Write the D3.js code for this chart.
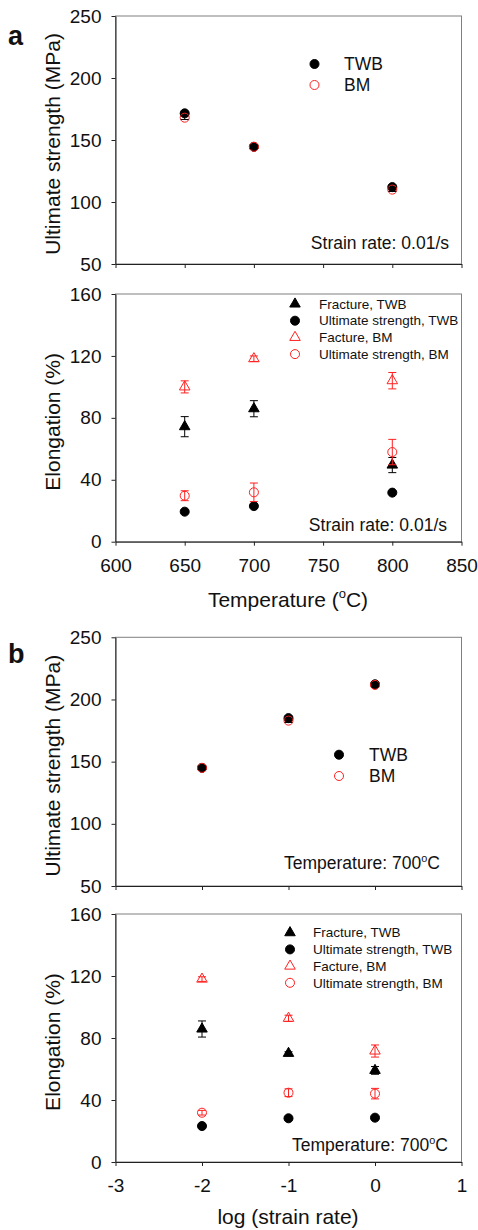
<!DOCTYPE html>
<html lang="en">
<head>
    <meta charset="UTF-8">
    <title>Ultimate strength and elongation of TWB and BM</title>
    <script src="https://d3js.org/d3.v7.min.js"></script>
    <style>
        body {
            margin: 0;
            background: #fff;
            font-family: "Liberation Sans", Arial, sans-serif;
        }
        .frame { fill: none; stroke: #808080; stroke-width: 1; }
        .axis path, .axis line { stroke: #222; }
        .axis text { font-size: 19px; fill: #111; font-family: "Liberation Sans", Arial, sans-serif; }
        .title { font-size: 21px; fill: #111; }
        .note { font-size: 17.5px; fill: #111; }
        .leg { font-size: 13.5px; fill: #111; }
        .leg2 { font-size: 17.5px; fill: #111; }
        .panel-tag { font-size: 27px; font-weight: bold; fill: #111; }
    </style>
</head>
<body>
<div id="chart"></div>
<script>
    // ---- data: (a) vs temperature, strain rate 0.01/s
    var tempX = [650, 700, 800];
    var utsTWB_a = [171.5, 144.5, 112];
    var utsTWB_a_err = [1.5, 1.5, 1.5];
    var utsBM_a = [168, 144.5, 110];
    var utsBM_a_err = [1.5, 1.5, 1.5];

    var fracTWB_a = [74.3, 85.9, 49.5];
    var fracTWB_a_err = [6.5, 5.2, 4.9];
    var elUtsTWB_a = [19.4, 23, 31.7];
    var elUtsTWB_a_err = [0.8, 0.8, 0.8];
    var fracBM_a = [100, 118.2, 104];
    var fracBM_a_err = [3.9, 1.8, 5.3];
    var elUtsBM_a = [29.7, 31.9, 57.9];
    var elUtsBM_a_err = [3.2, 6, 8.2];

    // ---- data: (b) vs log(strain rate), 700 C
    var rateX = [-2, -1, 0];
    var utsTWB_b = [145, 185, 212.2];
    var utsTWB_b_err = [1.5, 1.5, 1.5];
    var utsBM_b = [145, 183, 211.7];
    var utsBM_b_err = [1.5, 1.5, 1.5];

    var fracTWB_b = [85.8, 70.1, 59.1];
    var fracTWB_b_err = [5.2, 1, 2.5];
    var elUtsTWB_b = [23.2, 28.2, 28.6];
    var elUtsTWB_b_err = [0.8, 0.8, 0.8];
    var fracBM_b = [118, 92.7, 71.6];
    var fracBM_b_err = [1.5, 2, 3.9];
    var elUtsBM_b = [31.8, 44.7, 44.1];
    var elUtsBM_b_err = [1.5, 2.5, 3.4];

    // ---- tick values
    var tempTicks = [600, 650, 700, 750, 800, 850];
    var rateTicks = [-3, -2, -1, 0, 1];
    var utsTicks = [50, 100, 150, 200, 250];
    var elTicks = [0, 40, 80, 120, 160];

    var legendUts = ["TWB", "BM"];
    var legendEl = ["Fracture, TWB", "Ultimate strength, TWB", "Facture, BM", "Ultimate strength, BM"];

    var W = 478, H = 1230;
    var svg = d3.select("#chart").append("svg")
        .attr("width", W)
        .attr("height", H);

    var left = 115.5, right = 461.5;
    var circleSym = d3.symbol().type(d3.symbolCircle).size(64);
    var triSym = d3.symbol().type(d3.symbolTriangle).size(48);
    var plain = function(d) { return String(d); };   // hyphen minus, like the original

    // builds one panel and returns its scales
    function panel(opts) {
        var x = d3.scaleLinear().domain(opts.xDomain).range([left, right]);
        var y = d3.scaleLinear().domain(opts.yDomain).range([opts.bottom, opts.top]);
        var g = svg.append("g");

        g.append("rect").attr("class", "frame")
            .attr("x", left).attr("y", opts.top)
            .attr("width", right - left).attr("height", opts.bottom - opts.top);

        g.append("g").attr("class", "axis")
            .attr("transform", "translate(0," + opts.bottom + ")")
            .call(d3.axisBottom(x).tickValues(opts.xTicks).tickSize(4).tickSizeOuter(0).tickPadding(12.5)
                .tickFormat(opts.showX ? plain : ""));

        g.append("g").attr("class", "axis")
            .attr("transform", "translate(" + left + ",0)")
            .call(d3.axisLeft(y).tickValues(opts.yTicks).tickSize(4).tickSizeOuter(0).tickPadding(10)
                .tickFormat(plain));

        g.append("text").attr("class", "title")
            .attr("transform", "translate(60," + ((opts.top + opts.bottom) / 2 + 4) + ") rotate(-90)")
            .attr("text-anchor", "middle")
            .text(opts.yTitle);

        return {g: g, x: x, y: y};
    }

    function series(p, xs, ys, errs, sym, color, filled, errColor) {
        var data = xs.map(function(d, i) { return {x: d, y: ys[i], e: errs[i]}; });
        p.g.selectAll(null).data(data).enter().append("path")
            .attr("transform", function(d) { return "translate(" + p.x(d.x) + "," + p.y(d.y) + ")"; })
            .attr("d", sym)
            .attr("fill", filled ? color : "none")
            .attr("stroke", color)
            .attr("stroke-width", 1);
        var eb = p.g.selectAll(null).data(data).enter().append("g")
            .attr("stroke", errColor).attr("stroke-width", 1);
        eb.append("line")
            .attr("x1", function(d) { return p.x(d.x); })
            .attr("x2", function(d) { return p.x(d.x); })
            .attr("y1", function(d) { return p.y(d.y - d.e); })
            .attr("y2", function(d) { return p.y(d.y + d.e); });
        [-1, 1].forEach(function(s) {
            eb.append("line")
                .attr("x1", function(d) { return p.x(d.x) - 4; })
                .attr("x2", function(d) { return p.x(d.x) + 4; })
                .attr("y1", function(d) { return p.y(d.y + s * d.e); })
                .attr("y2", function(d) { return p.y(d.y + s * d.e); });
        });
    }

    function legendRow(g, mx, my, tx, sym, color, filled, label, cls) {
        g.append("path")
            .attr("transform", "translate(" + mx + "," + my + ")")
            .attr("d", sym)
            .attr("fill", filled ? color : "none")
            .attr("stroke", color);
        g.append("text").attr("class", cls)
            .attr("x", tx).attr("y", my).attr("dy", "0.35em")
            .text(label);
    }

    // text with a small raised "o" for the degree sign
    function degreeText(g, x, y, cls, before, after, anchor, rise) {
        var t = g.append("text").attr("class", cls)
            .attr("x", x).attr("y", y)
            .attr("text-anchor", anchor || "start");
        t.append("tspan").text(before);
        t.append("tspan").attr("dy", -rise).attr("font-size", "0.62em").text("o");
        t.append("tspan").attr("dy", rise).text(after);
        return t;
    }

    // ---------- panel a, top
    var a1 = panel({xDomain: [600, 850], yDomain: [50, 250], top: 16, bottom: 264,
        xTicks: tempTicks, yTicks: utsTicks, showX: false, yTitle: "Ultimate strength (MPa)"});
    series(a1, tempX, utsTWB_a, utsTWB_a_err, circleSym, "#000", true, "#000");
    series(a1, tempX, utsBM_a, utsBM_a_err, circleSym, "#ff2020", false, "#000");
    legendRow(a1.g, 314.5, 64, 344, circleSym, "#000", true, legendUts[0], "leg2");
    legendRow(a1.g, 314.5, 85, 344, circleSym, "#ff2020", false, legendUts[1], "leg2");
    a1.g.append("text").attr("class", "note").attr("x", 449).attr("y", 249)
        .attr("text-anchor", "end").text("Strain rate: 0.01/s");
    svg.append("text").attr("class", "panel-tag").attr("x", 8).attr("y", 45).text("a");

    // ---------- panel a, bottom
    var a2 = panel({xDomain: [600, 850], yDomain: [0, 160], top: 294, bottom: 541.7,
        xTicks: tempTicks, yTicks: elTicks, showX: true, yTitle: "Elongation (%)"});
    series(a2, tempX, elUtsTWB_a, elUtsTWB_a_err, circleSym, "#000", true, "#000");
    series(a2, tempX, fracTWB_a, fracTWB_a_err, triSym, "#000", true, "#000");
    series(a2, tempX, fracBM_a, fracBM_a_err, triSym, "#ff2020", false, "#ff2020");
    series(a2, tempX, elUtsBM_a, elUtsBM_a_err, circleSym, "#ff2020", false, "#ff2020");
    var legA = [[triSym, "#000", true], [circleSym, "#000", true], [triSym, "#ff2020", false], [circleSym, "#ff2020", false]];
    legA.forEach(function(l, i) {
        legendRow(a2.g, 295, 304 + i * 16.7, 319, l[0], l[1], l[2], legendEl[i], "leg");
    });
    a2.g.append("text").attr("class", "note").attr("x", 447).attr("y", 530.5)
        .attr("text-anchor", "end").text("Strain rate: 0.01/s");
    degreeText(svg, 288, 607, "title", "Temperature (", "C)", "middle", 9);

    // ---------- panel b, top
    var b1 = panel({xDomain: [-3, 1], yDomain: [50, 250], top: 637.3, bottom: 886,
        xTicks: rateTicks, yTicks: utsTicks, showX: false, yTitle: "Ultimate strength (MPa)"});
    series(b1, rateX, utsTWB_b, utsTWB_b_err, circleSym, "#000", true, "#000");
    series(b1, rateX, utsBM_b, utsBM_b_err, circleSym, "#ff2020", false, "#000");
    legendRow(b1.g, 339, 754.7, 369, circleSym, "#000", true, legendUts[0], "leg2");
    legendRow(b1.g, 339, 776, 369, circleSym, "#ff2020", false, legendUts[1], "leg2");
    degreeText(b1.g, 284, 869, "note", "Temperature: 700", "C", "start", 7.5);
    svg.append("text").attr("class", "panel-tag").attr("x", 8).attr("y", 663).text("b");

    // ---------- panel b, bottom
    var b2 = panel({xDomain: [-3, 1], yDomain: [0, 160], top: 914, bottom: 1162,
        xTicks: rateTicks, yTicks: elTicks, showX: true, yTitle: "Elongation (%)"});
    series(b2, rateX, elUtsTWB_b, elUtsTWB_b_err, circleSym, "#000", true, "#000");
    series(b2, rateX, fracTWB_b, fracTWB_b_err, triSym, "#000", true, "#000");
    series(b2, rateX, fracBM_b, fracBM_b_err, triSym, "#ff2020", false, "#ff2020");
    series(b2, rateX, elUtsBM_b, elUtsBM_b_err, circleSym, "#ff2020", false, "#ff2020");
    legA.forEach(function(l, i) {
        legendRow(b2.g, 290, 932.7 + i * 16.7, 313, l[0], l[1], l[2], legendEl[i], "leg");
    });
    degreeText(b2.g, 292, 1151, "note", "Temperature: 700", "C", "start", 7.5);
    svg.append("text").attr("class", "title").attr("x", 288).attr("y", 1224)
        .attr("text-anchor", "middle").text("log (strain rate)");
</script>
</body>
</html>
